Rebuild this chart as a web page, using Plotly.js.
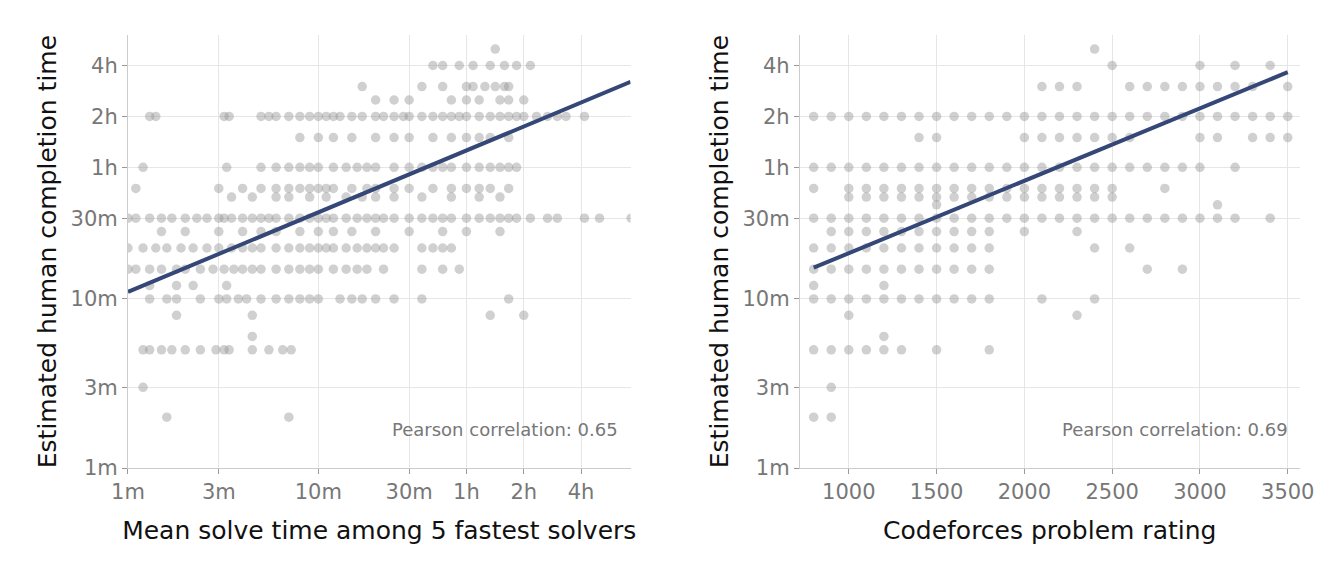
<!DOCTYPE html>
<html><head><meta charset="utf-8">
<script src="https://cdn.plot.ly/plotly-3.0.1.min.js"></script>
<style>body{margin:0}#plot{width:1333px;height:575px}</style>
</head><body><div id="plot"></div>
<script>
// ----- left panel: rows of (human time in minutes) -> list of mean solve times -----
const leftRows = {
  300:[85],
  240:[40,45,55,65,80,95,110,130],
  180:[17,35,45,60,65,75,85,95,100],
  150:[20,25,30,50,60,70,90,100,120],
  120:[1.3,1.4,3.2,3.4,5,5.5,6,7,8,9,10,11,12,13,15,17,20,22,25,28,30,35,40,45,50,55,60,70,80,90,100,110,120,140,160,180,200,250],
  90:[8,10,12,15,20,25,30,40,50,60,70,80,100],
  60:[1.2,3.3,5,6,7,8,9,10,12,14,16,18,20,25,30,35,40,45,50,60,70,80,90,100,110],
  45:[1.1,3,4,5,6,7,8,9,10,11,12,15,18,20,25,30,40,50,60,70,80,100],
  40:[3.5,4.5,6,7,9,11,14,17,20,25,35,50,70,90],
  30:[1,1.1,1.3,1.5,1.7,2,2.3,2.6,3,3.2,3.5,4,4.5,5,5.5,6,7,8,9,10,11,12,14,16,18,20,22,25,30,35,40,45,50,60,70,80,90,100,110,130,160,180,250,300,440],
  25:[1.5,2,3,4,5,6,8,10,12,15,20,30,45,60,90],
  20:[1,1.2,1.4,1.6,1.9,2.2,2.6,3,3.5,4,4.5,5,6,7,8,9,10,11,12,14,16,18,20,22,25,35,40,45,50],
  15:[1,1.1,1.3,1.5,1.8,2,2.4,2.8,3.2,3.6,4,4.5,5,6,7,8,9,10,12,14,16,18,22,35,45,55],
  12:[1.3,1.8,2.2,3.3],
  10:[1.3,1.6,1.8,2.4,3,3.3,3.8,4.2,5,6,7,8,9,10,13,15,17,20,25,35,100],
  8:[1.8,4.5,80,120],
  6:[4.5],
  5:[1.2,1.3,1.5,1.7,2,2.4,2.9,3.2,3.4,4.5,5.5,6.5,7.2],
  3:[1.2],
  2:[1.6,7]
};
// ----- right panel: rows of human time -> list of Codeforces ratings -----
const rightRows = {
  300:[2400],
  240:[2500,3000,3200,3400],
  180:[2100,2200,2300,2600,2700,2800,2900,3000,3100,3200,3300,3500],
  120:[800,900,1000,1100,1200,1300,1400,1500,1600,1700,1800,1900,2000,2100,2200,2300,2400,2500,2600,2700,2800,2900,3000,3100,3200,3300,3400,3500],
  90:[1400,1500,2000,2100,2200,2300,2400,2500,2600,3000,3100,3300,3400,3500],
  60:[800,900,1000,1100,1200,1300,1400,1500,1600,1700,1800,1900,2000,2100,2200,2300,2400,2500,2600,2700,2800,2900,3000,3200],
  45:[800,1000,1100,1200,1300,1400,1500,1600,1700,1800,1900,2000,2100,2200,2300,2400,2500,2800],
  40:[1000,1100,1200,1300,1400,1500,1600,1700,1800,1900,2000,2100,2200,2300,2400,2500],
  36:[1500,3100],
  30:[800,900,1000,1100,1200,1300,1400,1500,1600,1700,1800,1900,2000,2100,2200,2300,2400,2500,2600,2700,2800,2900,3000,3100,3200,3400],
  25:[900,1000,1100,1200,1300,1400,1500,1600,1700,1800,2000,2300],
  20:[800,900,1000,1100,1200,1300,1400,1500,1600,1700,1800,2400,2600],
  15:[800,900,1000,1100,1200,1300,1400,1500,1600,1700,1800,2700,2900],
  12:[800,1200],
  10:[800,900,1000,1100,1200,1300,1400,1500,1600,1700,1800,2100,2400],
  8:[1000,2300],
  6:[1200],
  5:[800,900,1000,1100,1200,1300,1500,1800],
  3:[900],
  2:[800,900]
};
const leftFit = {x:[1, 437], y:[11, 192]};
const rightFit = {x:[800, 3500], y:[15.3, 219]};
const yTickVals = [1,3,10,30,60,120,240];
const yTickText = ["1m","3m","10m","30m","1h","2h","4h"];
const xTickValsL = [1,3,10,30,60,120,240];
const xTickTextL = ["1m","3m","10m","30m","1h","2h","4h"];
const xTickValsR = [1000,1500,2000,2500,3000,3500];

function flatten(rows){
  const xs=[], ys=[];
  Object.entries(rows).forEach(([y,list])=>list.forEach(x=>{xs.push(x);ys.push(+y);}));
  return {xs, ys};
}
const L = flatten(leftRows), R = flatten(rightRows);
const dot = {size:9.5, color:"rgba(150,150,150,0.45)"};
const line = {color:"#354777", width:4};

const traces = [
  {x:L.xs, y:L.ys, type:"scatter", mode:"markers", marker:dot, xaxis:"x", yaxis:"y"},
  {x:leftFit.x, y:leftFit.y, type:"scatter", mode:"lines", line, xaxis:"x", yaxis:"y"},
  {x:R.xs, y:R.ys, type:"scatter", mode:"markers", marker:dot, xaxis:"x2", yaxis:"y2"},
  {x:rightFit.x, y:rightFit.y, type:"scatter", mode:"lines", line, xaxis:"x2", yaxis:"y2"}
];

const tickFont = {size:21, color:"#777", family:"DejaVu Sans"};
const titleFont = {size:25, color:"#111", family:"DejaVu Sans"};
const common = {showgrid:true, gridcolor:"#e6e6e6", zeroline:false, showline:true,
  linecolor:"#ccc", ticks:"outside", tickcolor:"#999", ticklen:5, tickfont:tickFont};
const yax = (dom) => Object.assign({}, common, {type:"log", range:[0, 2.56], domain:dom,
  tickvals:yTickVals, ticktext:yTickText,
  title:{text:"Estimated human completion time", font:titleFont, standoff:6}});

const layout = {
  showlegend:false,
  margin:{l:0,r:0,t:0,b:0},
  plot_bgcolor:"#fff", paper_bgcolor:"#fff",
  xaxis: Object.assign({}, common, {type:"log", range:[0, 2.64], domain:[0.096,0.473],
    tickvals:xTickValsL, ticktext:xTickTextL,
    title:{text:"Mean solve time among 5 fastest solvers", font:titleFont, standoff:18}}),
  yaxis: Object.assign(yax([0.186,0.939]), {anchor:"x"}),
  xaxis2: Object.assign({}, common, {range:[721, 3568], domain:[0.600,0.975], anchor:"y2",
    tickvals:xTickValsR,
    title:{text:"Codeforces problem rating", font:titleFont, standoff:18}}),
  yaxis2: Object.assign(yax([0.186,0.939]), {anchor:"x2"}),
  annotations:[
    {xref:"x domain", yref:"y domain", x:0.98, y:0.06, xanchor:"right", showarrow:false,
     text:"Pearson correlation: 0.65", font:{size:18, color:"#777", family:"DejaVu Sans"}},
    {xref:"x2 domain", yref:"y2 domain", x:0.98, y:0.06, xanchor:"right", showarrow:false,
     text:"Pearson correlation: 0.69", font:{size:18, color:"#777", family:"DejaVu Sans"}}
  ]
};
Plotly.newPlot("plot", traces, layout, {displayModeBar:false});
</script></body></html>
